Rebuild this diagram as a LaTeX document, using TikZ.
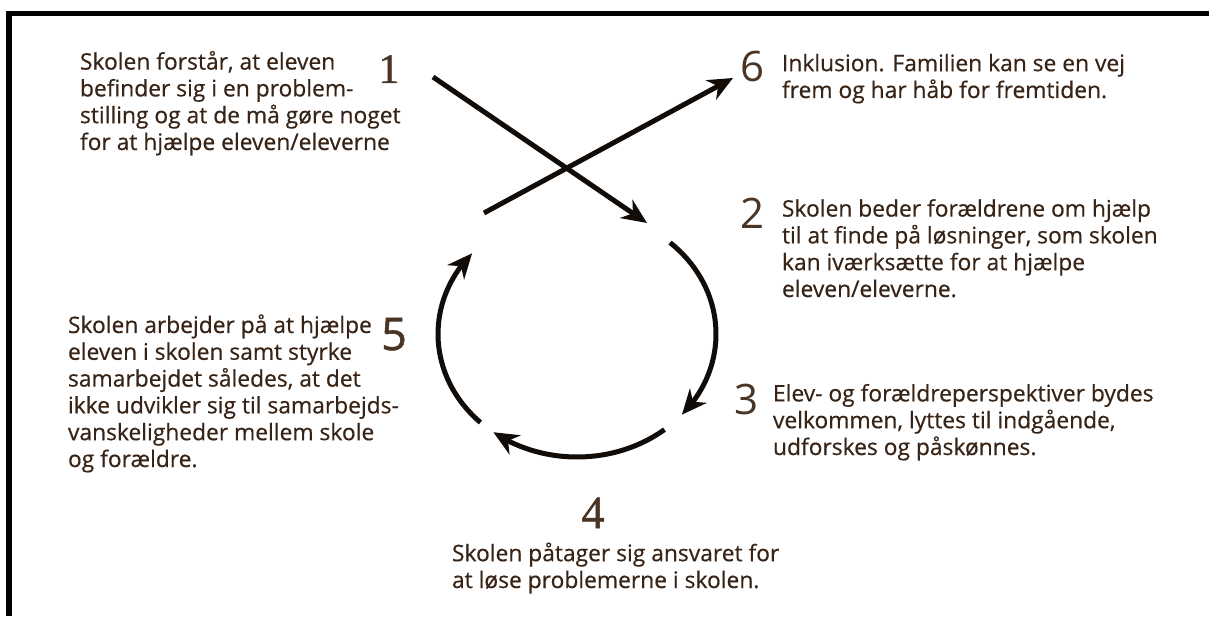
\documentclass[tikz,border=0pt]{standalone}
\usepackage{fontspec}
\setmainfont{Open Sans}[FakeBold=0.5]
\newfontfamily\numserif{Liberation Serif}[FakeBold=1.2]
\newfontfamily\numsans{Open Sans}
\newfontfamily\numsansheavy{Open Sans}[FakeBold=1.2]
\usepackage{xcolor}
\usetikzlibrary{arrows.meta,bending,calc}
\definecolor{textbrown}{RGB}{56, 36, 22}
\definecolor{numbrown}{RGB}{74, 52, 36}
\definecolor{arrowblack}{RGB}{18, 12, 8}

\begin{document}
\begin{tikzpicture}[
    x=1pt, y=1pt,
    every node/.style={inner sep=0pt, outer sep=0pt},
    steptext/.style={anchor=base west, align=left, text=textbrown, font=\fontsize{22.8}{26.8}\selectfont},
    stepnum/.style={anchor=base, text=numbrown, font=\numsans\fontsize{42}{42}\selectfont},
    stepnumserif/.style={anchor=base, text=numbrown, font=\numserif\fontsize{42}{42}\selectfont},
    flow/.style={draw=arrowblack, line width=5pt, -{Stealth[length=25pt, width=22pt, inset=8pt]}},
    edgeline/.style={draw=black, line width=5.5pt}
]
\useasboundingbox (0,0) rectangle (1209,616);

% Frame
\draw[edgeline] (6,602.5) -- (1209,602.5);
\draw[edgeline] (9,605) -- (9,0);

% Step numbers
\node[stepnumserif] (num1) at (389,533) {1};
\node[stepnum] (num2) at (752,387) {2};
\node[stepnum] (num3) at (746,201) {3};
\node[stepnumserif, font=\numserif\fontsize{46}{46}\selectfont] (num4) at (593,88) {4};
\node[stepnum, font=\numsansheavy\fontsize{45}{45}\selectfont] (num5) at (394,266) {5};
\node[stepnum] (num6) at (752,534) {6};

% Step texts (placed at the baseline of their last line)
\node[steptext] (txt1) at (80,466) {Skolen forstår, at eleven\\befinder sig i en problem-\\stilling og at de må gøre noget\\for at hjælpe eleven/eleverne};
\node[steptext] (txt2) at (782,319) {Skolen beder forældrene om hjælp\\til at finde på løsninger, som skolen\\kan iværksætte for at hjælpe\\eleven/eleverne.};
\node[steptext] (txt3) at (773,161) {Elev- og forældreperspektiver bydes\\velkommen, lyttes til indgående,\\udforskes og påskønnes.};
\node[steptext] (txt4) at (452,28) {Skolen påtager sig ansvaret for\\at løse problemerne i skolen.};
\node[steptext] (txt5) at (68,149) {Skolen arbejder på at hjælpe\\eleven i skolen samt styrke\\samarbejdet således, at det\\ikke udvikler sig til samarbejds-\\vanskeligheder mellem skole\\og forældre.};
\node[steptext] (txt6) at (782,518) {Inklusion. Familien kan se en vej\\frem og har håb for fremtiden.};

% Crossing arrows
\coordinate (a1start) at (433,539);
\coordinate (a1end) at (647,393);
\coordinate (a6start) at (484,403);
\coordinate (a6end) at (733,538);
\draw[flow] (a1start) -- (a1end);
\draw[flow] (a6start) -- (a6end);

% Cycle
\coordinate (ctr) at (577,282);
\draw[flow] ($(ctr)+(48:139 and 123)$) arc[start angle=48, end angle=-41, x radius=139, y radius=123];
\draw[flow] ($(ctr)+(-51:139 and 123)$) arc[start angle=-51, end angle=-127, x radius=139, y radius=123];
\draw[flow] ($(ctr)+(226:139 and 123)$) arc[start angle=226, end angle=139, x radius=139, y radius=123];

\end{tikzpicture}
\end{document}
